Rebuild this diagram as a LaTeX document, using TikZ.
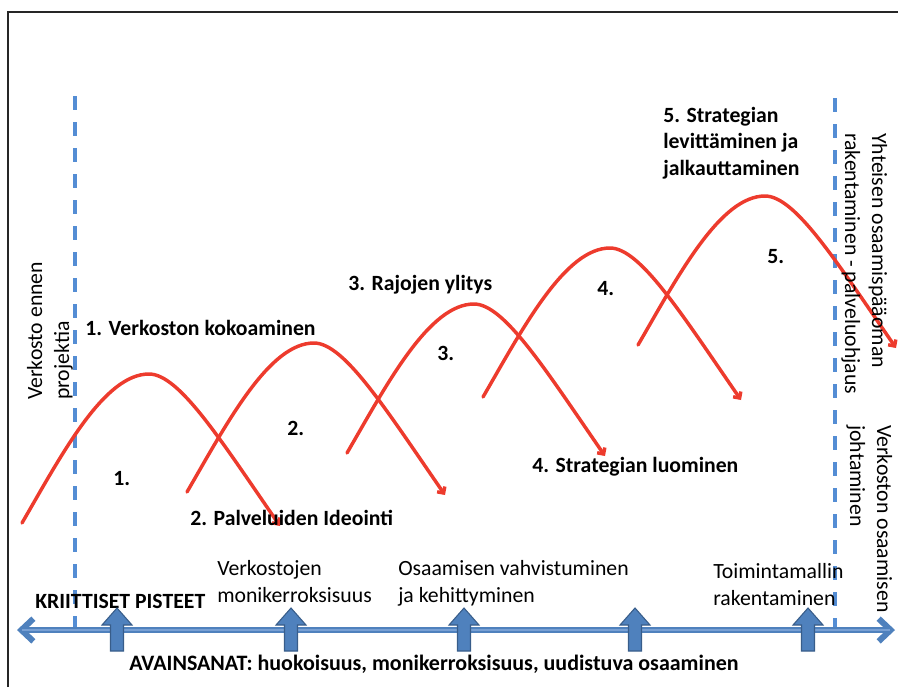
\documentclass[tikz,border=0pt]{standalone}
\usepackage{fontspec}
\setmainfont{Carlito}
\usetikzlibrary{arrows.meta}
\definecolor{redc}{RGB}{237,59,45}
\definecolor{dashc}{RGB}{84,141,212}
\definecolor{arrfill}{RGB}{79,129,189}
\definecolor{arrline}{RGB}{56,93,138}
\definecolor{arrlight}{RGB}{120,160,212}
\newcommand{\lines}[1]{\begin{tabular}[t]{@{}l@{}}#1\end{tabular}}
\begin{document}
\begin{tikzpicture}[x=0.75pt,y=-0.75pt,
  lbl/.style={font=\fontsize{16.3}{20}\selectfont\bfseries, inner sep=0pt, anchor=base west},
  txt/.style={font=\fontsize{16.3}{20.25}\selectfont, inner sep=0pt, anchor=base west},
  redarc/.style={draw=redc, line width=2.6pt, line cap=round, -{Straight Barb[length=3.5pt,width=7pt]}},
  bluedash/.style={draw=dashc, line width=2.3pt, dash pattern=on 10.5pt off 9pt},
  blockarrow/.style={fill=arrfill, draw=arrline, line width=0.8pt, line join=miter},
  axis/.style={draw=arrfill, line width=4.5pt, {Straight Barb[length=9pt,width=17pt]}-{Straight Barb[length=9pt,width=17pt]}}
  ]
\useasboundingbox (0,0) rectangle (898,687);
% frame
\draw[line width=0.8pt, black!85] (8,687) -- (8,12) -- (898,12);

% dashed boundaries
\coordinate (dlt) at (75,96);
\coordinate (dlb) at (75,628);
\coordinate (drt) at (835,98);
\coordinate (drb) at (835,628);
\draw[bluedash] (dlt) -- (dlb);
\draw[bluedash] (drt) -- (drb);

% red arcs
\foreach \sx/\sy in {22/523,187/492,347/453,483/397,638/345}
  \draw[redarc, shift={(\sx,\sy)}] (0,0) .. controls (40,-69) and (82,-149) .. (127,-149)
      .. controls (157,-149) and (198,-84) .. (258,3);

% phase labels
\node[lbl] (p1) at (85,335) {1. Verkoston kokoaminen};
\node[lbl] (p2) at (190,525) {2. Palveluiden Ideointi};
\node[lbl] (p3) at (348,290) {3. Rajojen ylitys};
\node[lbl] (p4) at (532,472) {4. Strategian luominen};
\node[lbl] (p5) at (663,122) {\lines{5. Strategian\\levittäminen ja\\jalkauttaminen}};

\node[lbl] (n1) at (113,485) {1.};
\node[lbl] (n2) at (287,435) {2.};
\node[lbl] (n3) at (437,360) {3.};
\node[lbl] (n4) at (597,295) {4.};
\node[lbl] (n5) at (767,263) {5.};

% vertical texts
\node[txt, rotate=90] (vl) at (42,400) {\lines{Verkosto ennen\\projektia}};
\node[txt, rotate=-90] (vr1) at (872,133) {\lines{Yhteisen osaamispääoman\\rakentaminen - palveluohjaus}};
\node[txt, rotate=-90] (vr2) at (877,425) {\lines{Verkoston osaamisen\\johtaminen}};

% bottom texts
\node[lbl] (kp) at (35,608) {KRIITTISET PISTEET};
\node[txt] (b1) at (217,575) {\lines{Verkostojen\\monikerroksisuus}};
\node[txt] (b2) at (398,575) {\lines{Osaamisen vahvistuminen\\ja kehittyminen}};
\node[txt] (b3) at (713,578) {\lines{Toimintamallin\\rakentaminen}};
\node[lbl, font=\fontsize{16.5}{20}\selectfont\bfseries] (av) at (129,670) {AVAINSANAT: huokoisuus, monikerroksisuus, uudistuva osaaminen};

% axis
\coordinate (al) at (17,630);
\coordinate (ar) at (895,630);
\draw[axis] (al) -- (ar);
\draw[draw=arrlight, line width=1.4pt] ([xshift=4pt]al) -- ([xshift=-4pt]ar);

% block arrows
\foreach \cx in {117,291,464,635,808}
  \draw[blockarrow] (\cx-6.5,651) -- (\cx-6.5,625) -- (\cx-15,625) -- (\cx,608)
     -- (\cx+15,625) -- (\cx+6.5,625) -- (\cx+6.5,651) -- cycle;
\end{tikzpicture}
\end{document}
